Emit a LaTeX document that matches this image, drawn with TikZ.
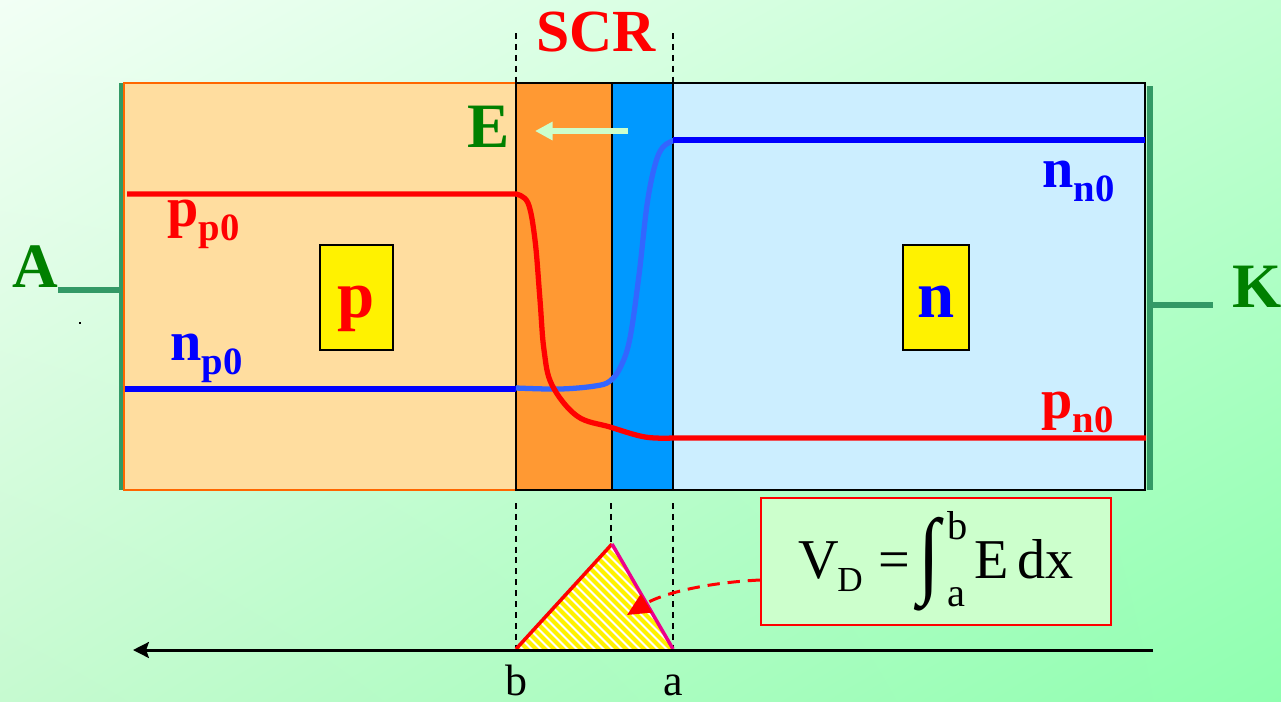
\documentclass[tikz,border=0pt]{standalone}
\usepackage{fontspec}
\setmainfont{Liberation Serif}
\usepackage{graphicx}
\usetikzlibrary{arrows.meta,positioning,shadings}

\definecolor{bgtl}{HTML}{F2FFF5}
\definecolor{bgtr}{HTML}{C2FFD2}
\definecolor{bgbl}{HTML}{C6FAD0}
\definecolor{bgbr}{HTML}{8FFFB0}
\definecolor{pfill}{HTML}{FFDD9F}
\definecolor{pedge}{HTML}{FF6600}
\definecolor{scrorange}{HTML}{FF9933}
\definecolor{scrblue}{HTML}{0099FF}
\definecolor{nfill}{HTML}{CCEEFF}
\definecolor{contactgreen}{HTML}{339966}
\definecolor{labelgreen}{HTML}{008000}
\definecolor{fieldgreen}{HTML}{CCFFCC}
\definecolor{softblue}{HTML}{3366FF}

\newcommand{\carrier}[2]{{\fontsize{32}{36}\selectfont #1}{\fontsize{22}{24}\selectfont\raisebox{-8pt}{#2}}}

\begin{document}
\begin{tikzpicture}[x=0.02cm,y=-0.02cm,
    zone/.style={draw=black,line width=0.6pt},
    contact/.style={contactgreen,line width=3.4pt},
    sep/.style={black,line width=0.8pt,dash pattern=on 3.4pt off 2.8pt},
    conc/.style={line width=3pt},
    lbl/.style={inner sep=0pt,font=\bfseries\fontsize{36}{40}\selectfont},
    carrierlbl/.style={inner sep=0pt,anchor=base west,font=\bfseries},
    typebox/.style={draw,line width=1pt,fill=yellow,minimum height=2.1cm,text height=23.2pt,text depth=0pt,font=\bfseries\fontsize{38}{40}\selectfont}]

  % background
  \shade[upper left=bgtl,upper right=bgtr,lower left=bgbl,lower right=bgbr] (0,0) rectangle (1281,701);
  \useasboundingbox (0,0) rectangle (1281,701);

  % contacts
  \draw[contact] (121.5,83) -- (121.5,490);
  \draw[contact] (58,290) -- (121.5,290);
  \draw[contact] (1149.5,86) -- (1149.5,490);
  \draw[contact] (1149.5,305) -- (1213,305);

  % regions
  \draw[draw=pedge,line width=1pt,fill=pfill] (124,83) rectangle (516,490);
  \draw[zone,fill=scrorange] (516,83) rectangle (612,490);
  \draw[zone,fill=scrblue] (612,83) rectangle (673,490);
  \draw[zone,fill=nfill] (673,83) rectangle (1145,490);

  \node[typebox,text=red,minimum width=1.46cm] (pbox) at (356.5,297.5) {p};
  \node[typebox,text=blue,minimum width=1.32cm] (nbox) at (936,297.5) {n};

  % carriers
  \draw[conc,blue] (125,389) -- (516,389);
  \draw[conc,softblue] plot[smooth,tension=0.6] coordinates {(516,388) (560,389) (595,386) (610,381) (621,366) (630,338) (639,275) (647,205) (655,165) (663,147) (675,140)};
  \draw[conc,blue] (673,140) -- (1145,140);
  \draw[conc,red] (127,194) -- (516,194) -- plot[smooth,tension=0.6] coordinates {(516,194) (528,203) (535,240) (540,300) (544,350) (552,385) (577,416) (610,427) (645,437) (673,438)} -- (1146,438);

  \node[carrierlbl,text=red] (ppzero) at (167,226) {\carrier{p}{p0}};
  \node[carrierlbl,text=blue] (npzero) at (170,360) {\carrier{n}{p0}};
  \node[carrierlbl,text=blue] (nnzero) at (1042,187) {\carrier{n}{n0}};
  \node[carrierlbl,text=red] (pnzero) at (1041,418) {\carrier{p}{n0}};

  % labels
  \node[lbl,text=labelgreen] (anode) at (35,267) {A};
  \node[lbl,text=labelgreen] (cathode) at (1257,287) {K};
  \node[lbl,text=labelgreen] (efield) at (489,127) {E};
  \node[lbl,text=red,font=\bfseries\fontsize{34}{38}\selectfont] (scr) at (596,32) {SCR};

  \coordinate (etail) at (628,131);
  \coordinate (ehead) at (535,131);
  \draw[fieldgreen,line width=3.8pt,-{Triangle[length=10pt,width=10pt]}] (etail) -- (ehead);

  % depletion edges
  \draw[sep] (516,33) -- (516,83);
  \draw[sep] (673,33) -- (673,83);
  \draw[sep] (516,503) -- (516,648);
  \draw[sep] (611,503) -- (611,544);
  \draw[sep] (673,503) -- (673,648);

  % field triangle
  \coordinate (bpt) at (516,649);
  \coordinate (apex) at (612,544);
  \coordinate (apt) at (673,649);
  \begin{scope}
    \clip (bpt) -- (apex) -- (apt) -- cycle;
    \fill[white] (500,540) rectangle (690,655);
    \foreach \s in {400,409,...,690}
      \draw[yellow,line width=2.4pt] (\s,540) -- ++(115,115);
  \end{scope}
  \draw[red,line width=2pt] (bpt) -- (apex);
  \draw[magenta,line width=2pt] (apex) -- (apt);

  \coordinate (axend) at (1153,650);
  \coordinate (axtip) at (133,650);
  \draw[line width=1.7pt,-{Stealth[length=9pt,width=9pt,inset=1.5pt]}] (axend) -- (axtip);

  \node[anchor=base,inner sep=0pt,font=\fontsize{25}{28}\selectfont] (blabel) at (516,695) {b};
  \node[anchor=base,inner sep=0pt,font=\fontsize{25}{28}\selectfont] (alabel) at (673,695) {a};

  % built-in voltage
  \node[draw=red,line width=1.2pt,fill=fieldgreen,minimum width=7cm,minimum height=2.54cm,font=\fontsize{32}{36}\selectfont] (vd) at (936,561.5)
    {V\kern-1pt\raisebox{-7.5pt}{\fontsize{20}{20}\selectfont D}\hspace{9pt}=\hspace{5pt}\raisebox{-4pt}{\scalebox{1.4}[1.7]{∫}}\hspace{4pt}\makebox[0pt][l]{\raisebox{22pt}{\fontsize{23}{23}\selectfont b}}\raisebox{-16pt}{\fontsize{23}{23}\selectfont a}\hspace{5pt}E\hspace{5pt}dx\hspace{12pt}};
  \coordinate (target) at (627,615);
  \draw[red,line width=1.7pt,dash pattern=on 7pt off 4.5pt,-{Triangle[length=13pt,width=12pt]}] ([yshift=-0.37cm]vd.west) .. controls (700,583) and (660,595) .. (target);

  \fill (79,322) rectangle (81,324);
\end{tikzpicture}
\end{document}
